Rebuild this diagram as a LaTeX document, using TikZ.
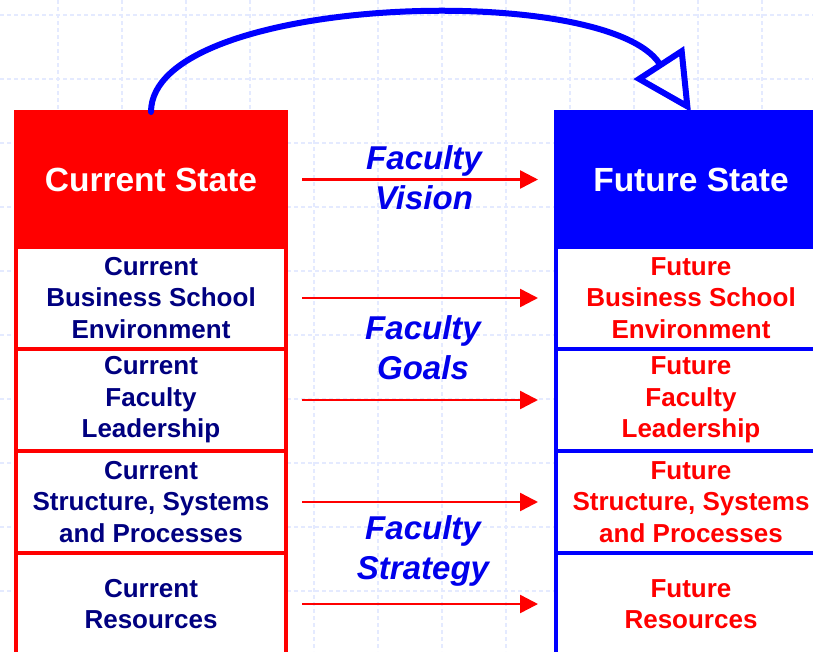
\documentclass[tikz,border=0pt]{standalone}
\usepackage{fontspec}
\setmainfont{Liberation Sans}
\usetikzlibrary{positioning,arrows.meta}
\definecolor{navy}{RGB}{0,0,128}
\definecolor{gridblue}{RGB}{228,234,255}
\definecolor{labblue}{RGB}{0,0,235}
\tikzset{
  cell/.style={draw, line width=4pt, fill=white, minimum width=270pt, minimum height=102pt,
    inner sep=0pt, outer sep=0pt, align=center, font=\fontsize{26}{31.5}\selectfont\bfseries},
  hdr/.style={cell, minimum height=135pt, text=white, font=\fontsize{33.5}{40}\selectfont\bfseries},
  flow/.style={red, line width=2.5pt, -{Triangle[length=18pt,width=18pt]}, shorten <=16pt, shorten >=18pt},
  faclab/.style={labblue, align=center, font=\fontsize{33}{40}\selectfont\bfseries\itshape},
  gridline/.style={gridblue, line width=1.5pt, dash pattern=on 4pt off 3pt}
}
\begin{document}
\begin{tikzpicture}[x=1pt, y=-1pt]
\useasboundingbox (0,0) rectangle (813,651);
% background grid
\foreach \x in {58,122,...,826} \draw[gridline] (\x,0) -- (\x,651);
\foreach \y in {15,79,...,655} \draw[gridline] (0,\y) -- (813,\y);
% current state
\node[hdr, draw=red, fill=red] (cur) at (151,179.5) {Current State};
\node[cell, draw=red, text=navy, below=0pt of cur] (c1) {Current\\Business School\\Environment};
\node[cell, draw=red, text=navy, below=0pt of c1] (c2) {Current\\Faculty\\Leadership};
\node[cell, draw=red, text=navy, below=0pt of c2] (c3) {Current\\Structure, Systems\\and Processes};
\node[cell, draw=red, text=navy, below=0pt of c3] (c4) {Current\\Resources};
% future state
\node[hdr, draw=blue, fill=blue] (fut) at (691,179.5) {Future State};
\node[cell, draw=blue, text=red, below=0pt of fut] (f1) {Future\\Business School\\Environment};
\node[cell, draw=blue, text=red, below=0pt of f1] (f2) {Future\\Faculty\\Leadership};
\node[cell, draw=blue, text=red, below=0pt of f2] (f3) {Future\\Structure, Systems\\and Processes};
\node[cell, draw=blue, text=red, below=0pt of f3] (f4) {Future\\Resources};
% arrows
\foreach \a/\b in {cur/fut,c1/f1,c2/f2,c3/f3,c4/f4} \draw[flow] (\a.east) -- (\b.west);
\node[faclab] (vis) at (424,178) {Faculty\\Vision};
\node[faclab] (goal) at (423,348) {Faculty\\Goals};
\node[faclab] (strat) at (423,551) {Faculty\\Strategy};
\draw[blue, line width=6pt, line cap=round, -{Triangle[open,length=59pt,width=59pt]}]
  (cur.north) .. controls (151,-5) and (605,-20) .. (fut.north);
\end{tikzpicture}
\end{document}
